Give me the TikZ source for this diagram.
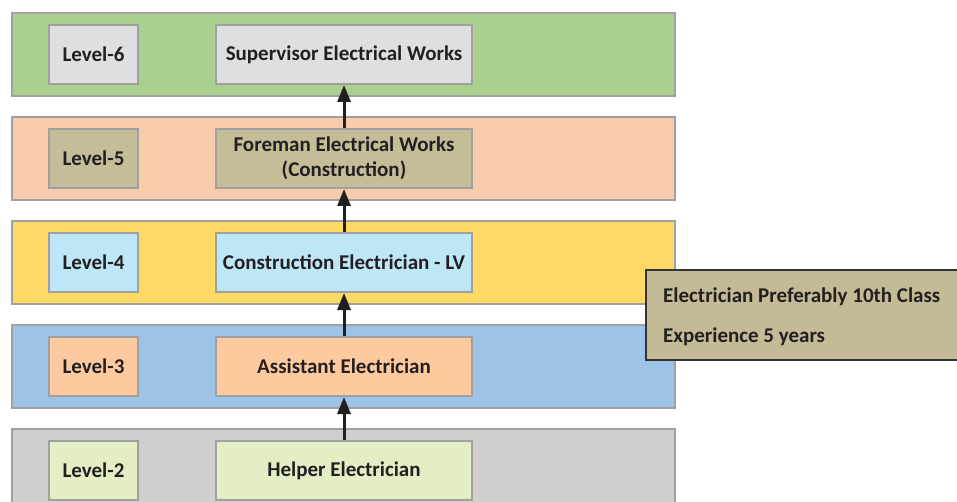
\documentclass[tikz,border=0pt]{standalone}
\usepackage{fontspec}
\setmainfont{Carlito}
\usetikzlibrary{arrows.meta}
\definecolor{bordergray}{HTML}{A0A0A0}
\definecolor{bandsix}{HTML}{A9D08E}
\definecolor{bandfive}{HTML}{F8CBAD}
\definecolor{bandfour}{HTML}{FFD966}
\definecolor{bandthree}{HTML}{9DC3E6}
\definecolor{bandtwo}{HTML}{D0CECE}
\definecolor{boxsix}{HTML}{DEDFE0}
\definecolor{boxfive}{HTML}{C4BD97}
\definecolor{boxfour}{HTML}{BDE6F7}
\definecolor{boxthree}{HTML}{FDCAA0}
\definecolor{boxtwo}{HTML}{E3EEC4}
\definecolor{txt}{HTML}{231F20}
\definecolor{notefill}{HTML}{C4BB96}
\definecolor{noteborder}{HTML}{333333}
\begin{document}
\begin{tikzpicture}[x=1pt,y=-1pt,
  band/.style={draw=bordergray,line width=2pt,minimum width=663pt,minimum height=83pt,inner sep=0pt,anchor=north west},
  lvl/.style={draw=bordergray,line width=2pt,minimum width=89pt,minimum height=59pt,inner sep=0pt,anchor=north west,font=\fontsize{21}{25}\selectfont\bfseries,text=txt},
  job/.style={draw=bordergray,line width=2pt,minimum width=256pt,minimum height=59pt,inner sep=0pt,anchor=north west,font=\fontsize{21}{25}\selectfont\bfseries,text=txt,align=center},
  notetext/.style={anchor=base west,font=\fontsize{21}{25}\selectfont\bfseries,text=txt,inner sep=0pt},
  up/.style={draw=txt,line width=3pt,-{Triangle[length=17pt,width=13pt]}}]
\useasboundingbox (0,0) rectangle (957,502);
\fill[white] (0,0) rectangle (957,502);
% bands
\node[band,fill=bandsix]   (b6) at (11,12) {};
\node[band,fill=bandfive]  (b5) at (11,116) {};
\node[band,fill=bandfour]  (b4) at (11,220) {};
\node[band,fill=bandthree] (b3) at (11,324) {};
\node[band,fill=bandtwo]   (b2) at (11,428) {};
% level boxes
\node[lvl,fill=boxsix]   (l6) at (48,24)  {Level-6};
\node[lvl,fill=boxfive]  (l5) at (48,128) {Level-5};
\node[lvl,fill=boxfour]  (l4) at (48,232) {Level-4};
\node[lvl,fill=boxthree] (l3) at (48,336) {Level-3};
\node[lvl,fill=boxtwo]   (l2) at (48,440) {Level-2};
% job boxes
\node[job,fill=boxsix]   (j6) at (215,24)  {Supervisor Electrical Works};
\node[job,fill=boxfive]  (j5) at (215,128) {Foreman Electrical Works\\(Construction)};
\node[job,fill=boxfour]  (j4) at (215,232) {Construction Electrician - LV};
\node[job,fill=boxthree] (j3) at (215,336) {Assistant Electrician};
\node[job,fill=boxtwo]   (j2) at (215,440) {Helper Electrician};
% arrows
\draw[up] (j2.north) -- (j3.south);
\draw[up] (j3.north) -- (j4.south);
\draw[up] (j4.north) -- (j5.south);
\draw[up] (j5.north) -- (j6.south);
% note
\node[draw=noteborder,fill=notefill,line width=2pt,anchor=north west,minimum width=330pt,minimum height=90pt,inner sep=0pt] (note) at (645,269) {};
\node[notetext] (n1) at (663,302) {Electrician Preferably 10th Class};
\node[notetext] (n2) at (663,342) {Experience 5 years};
\end{tikzpicture}
\end{document}
